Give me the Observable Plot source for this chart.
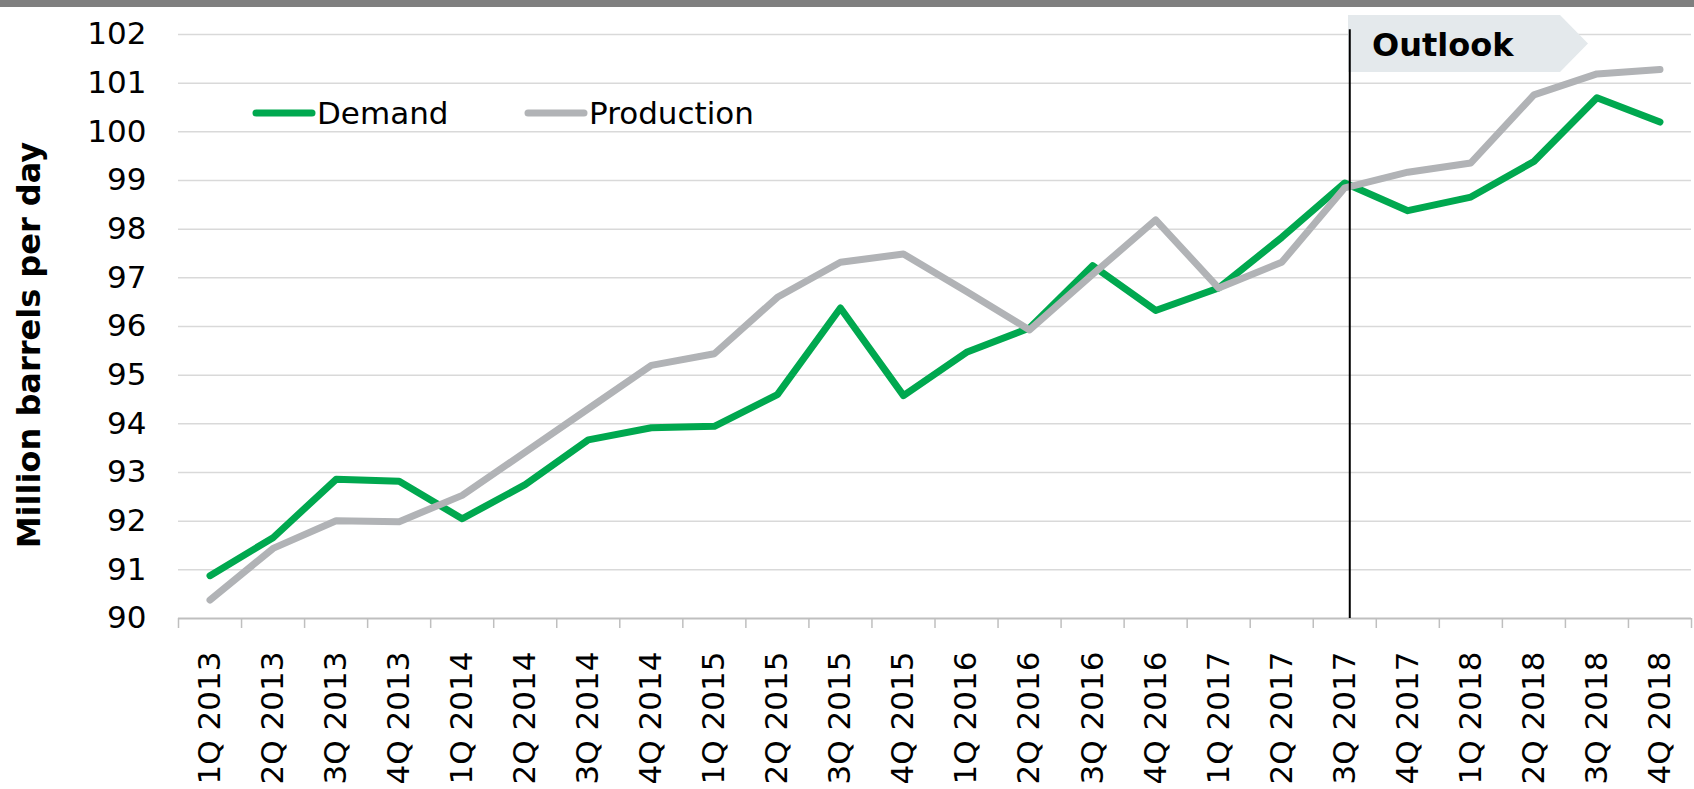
<!DOCTYPE html>
<html><head><meta charset="utf-8">
<script src="https://cdn.jsdelivr.net/npm/d3@7"></script>
<script src="https://cdn.jsdelivr.net/npm/@observablehq/plot@0.6"></script>
<style>
html,body{margin:0;padding:0;background:#fff;}
#chart{position:relative;width:1694px;height:789px;overflow:hidden;}
</style></head><body><div id="chart"></div>
<script>
const quarters = ["1Q 2013","2Q 2013","3Q 2013","4Q 2013","1Q 2014","2Q 2014","3Q 2014","4Q 2014",
  "1Q 2015","2Q 2015","3Q 2015","4Q 2015","1Q 2016","2Q 2016","3Q 2016","4Q 2016",
  "1Q 2017","2Q 2017","3Q 2017","4Q 2017","1Q 2018","2Q 2018","3Q 2018","4Q 2018"];
const demand = [90.88, 91.66, 92.86, 92.82, 92.05, 92.75, 93.67, 93.92,
  93.95, 94.60, 96.38, 94.58, 95.47, 95.97, 97.25, 96.33,
  96.79, 97.83, 98.95, 98.38, 98.66, 99.39, 100.70, 100.20];
const production = [90.38, 91.44, 92.01, 91.99, 92.53, 93.42, 94.31, 95.20,
  95.44, 96.60, 97.32, 97.49, 96.72, 95.93, 97.07, 98.19,
  96.79, 97.32, 98.85, 99.17, 99.36, 100.76, 101.19, 101.28];
const seriesNames = ["Demand", "Production"];
const seriesColors = ["#00a84f", "#b1b3b6"];
const yTicks = d3.range(90, 103);
const yTitle = "Million barrels per day";
const outlookLabel = "Outlook";
const outlookStart = "3Q 2017";

const font = "'DejaVu Sans', Verdana, sans-serif";
const pos = q => quarters.indexOf(q) + 0.5;
const rows = quarters.flatMap((q, i) => [
  {x: i + 0.5, series: seriesNames[0], value: demand[i]},
  {x: i + 0.5, series: seriesNames[1], value: production[i]}
]);

const plot = Plot.plot({
  width: 1694, height: 789,
  marginLeft: 178, marginRight: 3, marginTop: 34, marginBottom: 171,
  style: {fontFamily: font, fontSize: "31px", color: "#000", background: "#fff", overflow: "visible"},
  x: {type: "linear", domain: [0, quarters.length]},
  y: {domain: [90, 102]},
  color: {domain: seriesNames, range: seriesColors},
  marks: [
    Plot.ruleY(yTicks.slice(1), {stroke: "#d9d9d9", strokeWidth: 1.5}),
    Plot.ruleY([90], {stroke: "#bfbfbf", strokeWidth: 2}),
    Plot.axisX({ticks: d3.range(quarters.length + 1), tickSize: 10, tickFormat: () => "", stroke: "#bfbfbf", strokeWidth: 1.5, label: null}),
    Plot.axisX({ticks: quarters.map((q, i) => i + 0.5), tickSize: 0, tickPadding: 33, tickRotate: -90,
      tickFormat: v => quarters[Math.floor(v)], fontSize: 31, fill: "#000", label: null}),
    Plot.axisY({ticks: yTicks, tickSize: 0, tickPadding: 32, fontSize: 31, fill: "#000", label: null}),
    Plot.line(rows, {x: "x", y: "value", z: "series", stroke: "series", strokeWidth: 7,
      strokeLinecap: "round", strokeLinejoin: "round"}),
    Plot.ruleX([outlookStart], {x: q => pos(q), y1: 90, y2: 102.1, stroke: "#000", strokeWidth: 2, dx: 5})
  ]
});
document.getElementById("chart").appendChild(plot);

const svg = d3.select(plot);
// Outlook banner (below the lines and the rule)
svg.insert("polygon", "g[aria-label='line']")
  .attr("points", "1348,15 1560,15 1588,43.5 1560,72 1348,72")
  .attr("fill", "#e4e9ec");
svg.append("text").attr("x", 1372).attr("y", 56).attr("text-anchor", "start")
  .attr("font-family", font).attr("font-size", 32).attr("font-weight", "bold").attr("fill", "#000")
  .text(outlookLabel);

// Legend
const legendX = [256, 528];
seriesNames.forEach((name, i) => {
  const g = svg.append("g");
  g.append("line").attr("x1", legendX[i]).attr("x2", legendX[i] + 56).attr("y1", 113).attr("y2", 113)
    .attr("stroke", seriesColors[i]).attr("stroke-width", 7).attr("stroke-linecap", "round");
  g.append("text").attr("x", legendX[i] + 61).attr("y", 113).attr("dy", "0.36em").attr("text-anchor", "start")
    .attr("font-family", font).attr("font-size", 31).attr("fill", "#000").text(name);
});

// Y-axis title
svg.append("text").attr("transform", "translate(40,345) rotate(-90)")
  .attr("text-anchor", "middle").attr("font-family", font).attr("font-size", 32)
  .attr("font-weight", "bold").attr("fill", "#000").text(yTitle);

// Top gray band
svg.append("rect").attr("x", 0).attr("y", 0).attr("width", 1694).attr("height", 7).attr("fill", "#7f7f7f");
</script>
</body></html>
